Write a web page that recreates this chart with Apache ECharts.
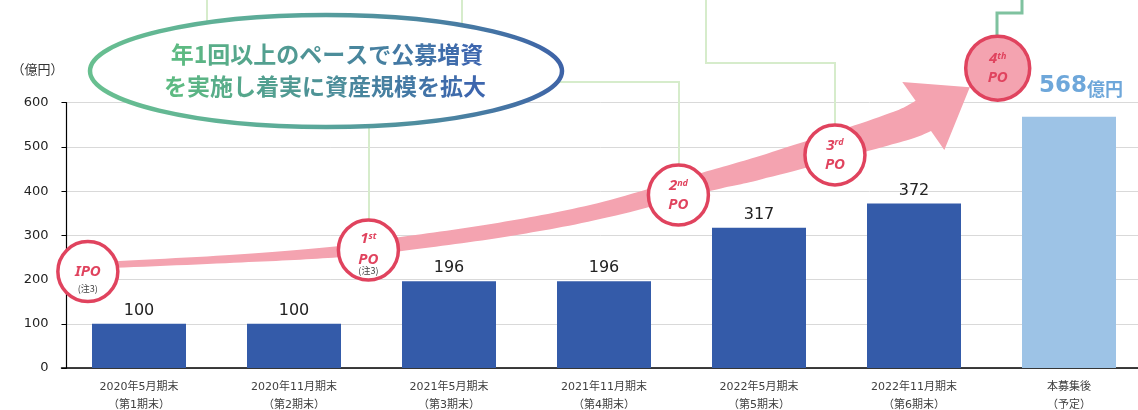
<!DOCTYPE html>
<html><head><meta charset="utf-8">
<script src="https://cdn.jsdelivr.net/npm/echarts@6/dist/echarts.min.js"></script>
<style>html,body{margin:0;padding:0;background:#fff}#c{width:1138px;height:410px}</style>
</head><body><div id="c"></div>
<script>
// ---- data ----
const categories = ['2020年5月期末','2020年11月期末','2021年5月期末','2021年11月期末','2022年5月期末','2022年11月期末','本募集後'];
const periods = ['（第1期末）','（第2期末）','（第3期末）','（第4期末）','（第5期末）','（第6期末）','（予定）'];
const assetValues = [100, 100, 196, 196, 317, 372, 568];
const yMin = 0, yMax = 600, yInterval = 100;
const yAxisName = '（億円）';
const valueUnit = '億円';

// offering milestones (positions in chart coordinates: category index, value)
const offeringLabels = ['IPO', '1st PO', '2nd PO', '3rd PO', '4th PO'];
const offeringNotes = ['(注3)', '(注3)', '', '', ''];
const offeringX = [-0.33, 1.48, 3.48, 4.49, 5.54];
const offeringY = [218, 267, 391, 482, 678];

// growth arrow centre line (chart coordinates)
const arrowX = [-0.33, 0.61, 1.25, 1.68, 2.33, 2.97, 3.68, 4.03, 4.80, 5.06];
const arrowY = [231, 247, 262, 280, 312, 355, 423, 455, 535, 570];
const arrowTip = [5.36, 635];

const calloutLines = ['年1回以上のペースで公募増資', 'を実施し着実に資産規模を拡大'];

// ---- styles ----
const DARK = '#345BA9', LIGHT = '#9DC3E6', RED = '#E0435E', PINK = '#F4A3B0';
const arrowWidths = [6, 8, 11, 14, 15, 16, 20, 23, 30, 34];
const headHalf = 40;

const chart = echarts.init(document.getElementById('c'), null, {renderer: 'canvas'});

function spline(P, tail, n) {
  const out = [];
  const Q = P.concat([tail]);
  for (let i = 0; i < P.length - 1; i++) {
    const p0 = Q[i - 1] || Q[i], p1 = Q[i], p2 = Q[i + 1], p3 = Q[i + 2] || Q[i + 1];
    for (let k = 0; k < n; k++) {
      const t = k / n, t2 = t * t, t3 = t2 * t;
      const f = (a, b, c, d) => 0.5 * ((2 * b) + (-a + c) * t + (2 * a - 5 * b + 4 * c - d) * t2 + (-a + 3 * b - 3 * c + d) * t3);
      out.push({x: f(p0[0], p1[0], p2[0], p3[0]), y: f(p0[1], p1[1], p2[1], p3[1]), s: i + t});
    }
  }
  const L = P[P.length - 1];
  out.push({x: L[0], y: L[1], s: P.length - 1});
  return out;
}

function arrowRender(params, api) {
  const P = arrowX.map((x, i) => api.coord([x, arrowY[i]]));
  const tip = api.coord(arrowTip);
  const S = spline(P, tip, 16);
  const left = [], right = [];
  for (let i = 0; i < S.length; i++) {
    const a = S[Math.max(0, i - 1)], b = S[Math.min(S.length - 1, i + 1)];
    let tx = b.x - a.x, ty = b.y - a.y;
    const l = Math.hypot(tx, ty) || 1; tx /= l; ty /= l;
    const nx = -ty, ny = tx;
    const seg = Math.min(arrowWidths.length - 2, Math.floor(S[i].s));
    const fr = S[i].s - seg;
    const w = arrowWidths[seg] + (arrowWidths[seg + 1] - arrowWidths[seg]) * fr;
    left.push([S[i].x + nx * w / 2, S[i].y + ny * w / 2]);
    right.push([S[i].x - nx * w / 2, S[i].y - ny * w / 2]);
  }
  const base = P[P.length - 1];
  let dx = tip[0] - base[0], dy = tip[1] - base[1];
  const dl = Math.hypot(dx, dy); dx /= dl; dy /= dl;
  const hx = -dy, hy = dx;
  const pts = left.concat([[base[0] + hx * headHalf, base[1] + hy * headHalf], tip, [base[0] - hx * headHalf, base[1] - hy * headHalf]], right.reverse());
  return {type: 'polygon', shape: {points: pts}, style: {fill: PINK}};
}

function circleRender(params, api) {
  const i = params.dataIndex;
  const c = api.coord([api.value(0), api.value(1)]);
  const big = i === offeringLabels.length - 1;
  const r = big ? 32 : 30;
  const parts = offeringLabels[i].split(' ');
  const children = [{
    type: 'circle', shape: {cx: c[0], cy: c[1], r: r},
    style: {fill: big ? PINK : '#ffffff', stroke: RED, lineWidth: 3.5}
  }];
  const rich = {
    m: {fontSize: 15, fontWeight: 'bold', fontStyle: 'italic', fill: RED, fontFamily: '"Noto Sans", sans-serif'},
    s: {fontSize: 9, fontWeight: 'bold', fontStyle: 'italic', fill: RED, fontFamily: '"Noto Sans", sans-serif', verticalAlign: 'top'},
    n: {fontSize: 9, fill: '#444', fontFamily: '"Noto Sans CJK JP", sans-serif'}
  };
  const lines = [];
  if (parts.length === 1) {
    lines.push(['{m|' + parts[0] + '}', 0]);
    if (offeringNotes[i]) lines.push(['{n|' + offeringNotes[i] + '}', 17]);
  } else {
    const num = parts[0].match(/^\d+/)[0], suf = parts[0].slice(num.length);
    if (offeringNotes[i]) {
      lines.push(['{m|' + num + '}{s|' + suf + '}', -11]);
      lines.push(['{m|' + parts[1] + '}', 10]);
      lines.push(['{n|' + offeringNotes[i] + '}', 21]);
    } else {
      lines.push(['{m|' + num + '}{s|' + suf + '}', -9]);
      lines.push(['{m|' + parts[1] + '}', 10]);
    }
  }
  lines.forEach(l => children.push({
    type: 'text', x: c[0], y: c[1] + l[1],
    style: {text: l[0], rich: rich, align: 'center', verticalAlign: 'middle'}
  }));
  return {type: 'group', children: children};
}

// per-character colour ramp for the callout text (green -> blue)
function hex(c) { return [1, 3, 5].map(k => parseInt(c.slice(k, k + 2), 16)); }
function rampText(text, c1, c2, font) {
  const a = hex(c1), b = hex(c2), chars = Array.from(text), rich = {};
  let s = '';
  chars.forEach((ch, i) => {
    const t = chars.length > 1 ? i / (chars.length - 1) : 0;
    const col = 'rgb(' + a.map((v, k) => Math.round(v + (b[k] - v) * t)).join(',') + ')';
    rich['c' + i] = {fill: col, font: font};
    s += '{c' + i + '|' + ch + '}';
  });
  return {text: s, rich: rich};
}

const greenLine = '#D6ECCB';
const gradEllipse = new echarts.graphic.LinearGradient(0, 1, 1, 0, [
  {offset: 0, color: '#69C18F'}, {offset: 0.45, color: '#5AA89A'}, {offset: 1, color: '#3C5FA8'}]);
const calloutFont = 'bold 23px "Noto Sans CJK JP", sans-serif';
const line1 = rampText(calloutLines[0], '#5DBA82', '#3D66AE', calloutFont);
const line2 = rampText(calloutLines[1], '#5DBA82', '#3D66AE', calloutFont);

const option = {
  animation: false,
  backgroundColor: '#ffffff',
  grid: {left: 61.5, width: 1085, top: 102.7, bottom: 42, containLabel: false, outerBoundsMode: 'none'},
  xAxis: [{
    type: 'category', data: categories,
    axisLine: {lineStyle: {color: '#000', width: 1.5}},
    axisTick: {show: false},
    axisLabel: {
      margin: 10, interval: 0, color: '#404040', fontSize: 11, lineHeight: 18,
      fontFamily: '"DejaVu Sans", "Noto Sans CJK JP", sans-serif',
      formatter: (v, i) => v + '\n' + periods[i]
    }
  }, {
    type: 'value', min: -0.5, max: 6.5, show: false
  }],
  yAxis: {
    type: 'value', min: yMin, max: yMax, interval: yInterval, offset: -5,
    name: yAxisName, nameLocation: 'end', nameGap: 34,
    nameTextStyle: {fontSize: 13, color: '#333', align: 'right', verticalAlign: 'middle', padding: [0, 3, 0, 0],
      fontFamily: '"Noto Sans CJK JP", sans-serif'},
    axisLine: {show: true, onZero: false, lineStyle: {color: '#000', width: 1.2}},
    axisTick: {show: true, length: 5, lineStyle: {color: '#000'}},
    axisLabel: {color: '#222', fontSize: 13, margin: 18, fontFamily: '"DejaVu Sans", sans-serif'},
    splitLine: {lineStyle: {color: '#D9D9D9', width: 1}}
  },
  series: [{
    type: 'bar', barWidth: 94, z: 2,
    data: assetValues.map((v, i) => {
      const last = i === assetValues.length - 1;
      return {
        value: v,
        itemStyle: {color: last ? LIGHT : DARK},
        label: last ? {
          show: true, position: 'top', distance: 19, offset: [12, 0],
          formatter: p => '{a|' + p.value + '}{b|' + valueUnit + '}',
          rich: {
            a: {fontSize: 23, fontWeight: 'bold', color: '#6EA7DA', fontFamily: '"DejaVu Sans", sans-serif'},
            b: {fontSize: 18, fontWeight: 'bold', color: '#6EA7DA', fontFamily: '"Noto Sans CJK JP", sans-serif', padding: [5, 0, 0, 0]}
          }
        } : {
          show: true, position: 'top', distance: 5, color: '#222', fontSize: 16,
          fontFamily: '"DejaVu Sans", sans-serif'
        }
      };
    })
  }, {
    type: 'custom', xAxisIndex: 1, yAxisIndex: 0, z: 8, clip: false, silent: true,
    data: [[0, 0]], renderItem: arrowRender
  }, {
    type: 'custom', xAxisIndex: 1, yAxisIndex: 0, z: 9, clip: false, silent: true,
    data: offeringX.map((x, i) => [x, offeringY[i]]), renderItem: circleRender
  }],
  graphic: [
    {type: 'polyline', z: 1, shape: {points: [[207, 0], [207, 60]]}, style: {stroke: greenLine, lineWidth: 2, fill: null}},
    {type: 'polyline', z: 1, shape: {points: [[462, 0], [462, 60]]}, style: {stroke: greenLine, lineWidth: 2, fill: null}},
    {type: 'polyline', z: 1, shape: {points: [[500, 82], [679, 82], [679, 180]]}, style: {stroke: greenLine, lineWidth: 2, fill: null}},
    {type: 'polyline', z: 1, shape: {points: [[706, 0], [706, 63], [835, 63], [835, 140]]}, style: {stroke: greenLine, lineWidth: 2, fill: null}},
    {type: 'polyline', z: 1, shape: {points: [[369, 100], [369, 235]]}, style: {stroke: greenLine, lineWidth: 2, fill: null}},
    {type: 'polyline', z: 1, shape: {points: [[1022, 0], [1022, 13], [997, 13], [997, 50]]}, style: {stroke: '#7FC29F', lineWidth: 3, fill: null}},
    {type: 'ellipse', z: 100, shape: {cx: 326, cy: 71, rx: 236, ry: 56},
      style: {fill: '#ffffff', stroke: gradEllipse, lineWidth: 4.5}},
    {type: 'text', z: 101, x: 327, y: 54, style: {text: line1.text, rich: line1.rich, align: 'center', verticalAlign: 'middle'}},
    {type: 'text', z: 101, x: 325, y: 86, style: {text: line2.text, rich: line2.rich, align: 'center', verticalAlign: 'middle'}}
  ]
};
chart.setOption(option);
</script>
</body></html>
